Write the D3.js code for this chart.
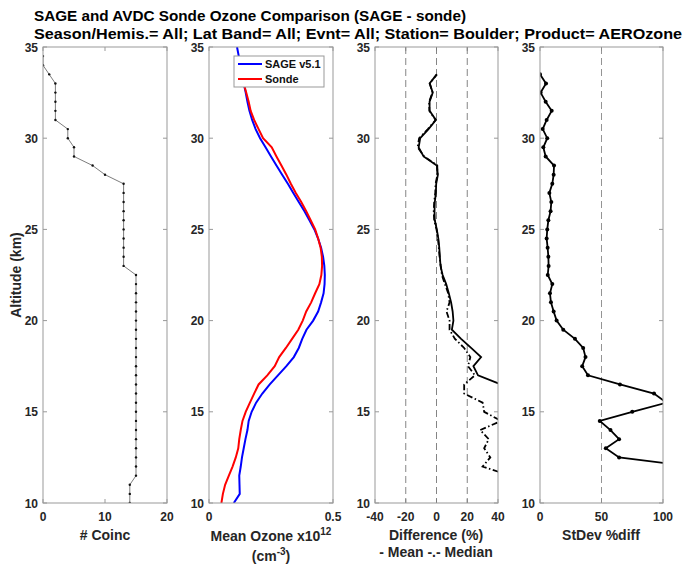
<!DOCTYPE html>
<html>
<head>
<meta charset="utf-8">
<script src="https://cdn.jsdelivr.net/npm/d3@7"></script>
<style>
  body { margin: 0; background: #fff; }
  svg { font-family: "Liberation Sans", Arial, Helvetica, sans-serif; }
</style>
</head>
<body>
<svg class="chart"></svg>
<script>
// Chart data
const coincAlt = [10, 10.5, 11, 11.5, 12, 12.5, 13, 13.5, 14, 14.5, 15, 15.5, 16, 16.5, 17, 17.5, 18, 18.5, 19, 19.5,
    20, 20.5, 21, 21.5, 22, 22.5, 23, 23.5, 24, 24.5, 25, 25.5, 26, 26.5, 27, 27.5, 28, 28.5, 29, 29.5,
    30, 30.5, 31, 31.5, 32, 32.5, 33, 33.5, 34, 34.5];
const coinc = [14, 14, 14, 15, 15, 15, 15, 15, 15, 15, 15, 15, 15, 15, 15, 15, 15, 15, 15, 15,
    15, 15, 15, 15, 15, 15, 13, 13, 13, 13, 13, 13, 13, 13, 13, 13, 10, 8, 5, 5,
    4, 4, 2, 2, 2, 2, 2, 1, 0, 0];

const ozoneAlt = [10, 10.5, 11, 11.5, 12, 12.5, 13, 13.5, 14, 14.5, 15, 15.5, 16, 16.5, 17, 17.5, 18, 18.5, 19, 19.5,
    20, 20.5, 21, 21.5, 22, 22.5, 23, 23.5, 24, 24.5, 25, 25.5, 26, 26.5, 27, 27.5, 28, 28.5, 29, 29.5,
    30, 30.5, 31, 31.5, 32, 32.5, 33, 33.5, 34, 34.5, 35];
const sageOzone = [0.100, 0.124, 0.123, 0.122, 0.128, 0.133, 0.140, 0.147, 0.155, 0.160, 0.172, 0.190, 0.215, 0.245, 0.278, 0.312, 0.342, 0.362, 0.376, 0.393,
    0.420, 0.440, 0.452, 0.462, 0.466, 0.467, 0.465, 0.460, 0.452, 0.440, 0.425, 0.405, 0.385, 0.362, 0.340, 0.318, 0.295, 0.272, 0.250, 0.228,
    0.206, 0.188, 0.174, 0.163, 0.155, 0.148, 0.140, 0.132, 0.126, 0.120, 0.113];
const sondeOzone = [0.050, 0.056, 0.065, 0.080, 0.095, 0.108, 0.118, 0.122, 0.128, 0.135, 0.148, 0.165, 0.182, 0.200, 0.235, 0.265, 0.283, 0.310, 0.335, 0.360,
    0.378, 0.392, 0.412, 0.428, 0.445, 0.453, 0.456, 0.455, 0.450, 0.440, 0.428, 0.410, 0.392, 0.372, 0.350, 0.330, 0.312, 0.292, 0.272, 0.253,
    0.218, 0.200, 0.182, 0.168, 0.160, 0.150, 0.140, 0.133, null, null, null];

const diffAlt = [11.5, 12, 12.5, 13, 13.5, 14, 14.5, 15, 15.5, 16, 16.5, 17, 17.5, 18, 18.5, 19, 19.5,
    20, 20.5, 21, 21.5, 22, 22.5, 23, 23.5, 24, 24.5, 25, 25.5, 26, 26.5, 27, 27.5, 28, 28.5, 29, 29.5,
    30, 30.5, 31, 31.5, 32, 32.5, 33, 33.5];
const diffMean = [null, null, null, null, null, null, null, null, null, null, 42, 27, 24, 29, 22.5, 16, 10,
    11, 10.5, 9.5, 8, 6.3, 4, 2.6, 2.2, 1.8, 1.2, 0.2, -1.1, -1.3, -1.1, -0.4, -0.2, 0.9, 0.2, -8.4, -11.6,
    -10.6, -5.2, -0.4, -4.5, -4.5, -2.4, -4.5, 0.2];
const diffMedian = [48, 30, 35, 31, 34, 28.4, 42, 31, 30, 18, 18, 25, 20.5, 22, 18, 12, 8.5,
    8.5, 6.5, 8.5, 7.6, 5.5, 3.5, 2.8, 2.0, 1.5, 1.0, 0, -1.5, -1.8, -1.5, -0.8, -0.6, 0.6, 0.5, -8.0, -12.3,
    -11.3, -5.6, -0.6, -4.6, -4.8, -2.6, -4.3, 0.2];

const stdAlt = [12, 12.5, 13, 13.5, 14, 14.5, 15, 15.5, 16, 16.5, 17, 17.5, 18, 18.5, 19, 19.5,
    20, 20.5, 21, 21.5, 22, 22.5, 23, 23.5, 24, 24.5, 25, 25.5, 26, 26.5, 27, 27.5, 28, 28.5, 29, 29.5,
    30, 30.5, 31, 31.5, 32, 32.5, 33, 33.5];
const stdDiff = [123, 64.3, 53.5, 64.3, 57.3, 48.6, 75, 103, 92.7, 65, 39, 34.3, 37, 35.1, 28.4, 18.9,
    13.5, 11.1, 8.9, 8.1, 10, 6.3, 7, 6.8, 6.2, 5.4, 5.9, 6.8, 8.6, 9.2, 7.6, 10, 11.1, 11.4, 4.6, 2.7,
    5.9, 2.2, 5.4, 9.5, 4.6, 0.5, 4.9, 0];

const altTicks = [10, 15, 20, 25, 30, 35];
const legendNames = ["SAGE v5.1", "Sonde"];
const legendColors = ["#0000ff", "#ff0000"];

// Size of the page
const width = 684;
const height = 567;
const plotTop = 47, plotBottom = 503;
const axisGray = "#999999";
const textColor = "#262626";

const svg = d3.select(".chart")
    .attr("width", width)
    .attr("height", height);

// Shared altitude scale
const y = d3.scaleLinear().domain([10, 35]).range([plotBottom, plotTop]);

// One panel: box, inward ticks on all sides, tick labels
function panel(id, x0, x1, domain, xTicks) {
    const x = d3.scaleLinear().domain(domain).range([x0, x1]);
    const g = svg.append("g");

    svg.append("clipPath").attr("id", id)
        .append("rect").attr("x", x0).attr("y", plotTop).attr("width", x1 - x0).attr("height", plotBottom - plotTop);

    // tick labels
    g.selectAll(".yl").data(altTicks).enter().append("text")
        .attr("x", x0 - 5).attr("y", d => y(d) + 4.5)
        .attr("text-anchor", "end")
        .attr("font-size", 12).attr("font-weight", "bold").attr("fill", textColor)
        .text(d => d);
    g.selectAll(".xl").data(xTicks).enter().append("text")
        .attr("x", d => x(d)).attr("y", plotBottom + 18)
        .attr("text-anchor", "middle")
        .attr("font-size", 12).attr("font-weight", "bold").attr("fill", textColor)
        .text(d => d);

    // inner ticks
    const tl = 4;
    altTicks.forEach(t => {
        g.append("line").attr("x1", x0).attr("x2", x0 + tl).attr("y1", y(t)).attr("y2", y(t)).attr("stroke", axisGray);
        g.append("line").attr("x1", x1).attr("x2", x1 - tl).attr("y1", y(t)).attr("y2", y(t)).attr("stroke", axisGray);
    });
    xTicks.forEach(t => {
        g.append("line").attr("x1", x(t)).attr("x2", x(t)).attr("y1", plotBottom).attr("y2", plotBottom - tl).attr("stroke", axisGray);
        g.append("line").attr("x1", x(t)).attr("x2", x(t)).attr("y1", plotTop).attr("y2", plotTop + tl).attr("stroke", axisGray);
    });

    const plot = svg.append("g").attr("clip-path", `url(#${id})`);

    // box drawn after, on top
    svg.append("rect")
        .attr("x", x0).attr("y", plotTop).attr("width", x1 - x0).attr("height", plotBottom - plotTop)
        .attr("fill", "none").attr("stroke", axisGray).attr("stroke-width", 1);

    return { x, plot };
}

function lineGen(x, xs, ys) {
    return d3.line()
        .defined(i => xs[i] !== null && xs[i] !== undefined)
        .x(i => x(xs[i]))
        .y(i => y(ys[i]))(d3.range(xs.length));
}

// Panel 1: number of coincidences
const p1 = panel("c1", 43, 167, [0, 20], [0, 10, 20]);
p1.plot.append("path")
    .attr("d", lineGen(p1.x, coinc, coincAlt))
    .attr("fill", "none").attr("stroke", "#444").attr("stroke-width", 0.7);
p1.plot.selectAll(".dot").data(coinc).enter().append("circle")
    .attr("cx", d => p1.x(d)).attr("cy", (d, i) => y(coincAlt[i]))
    .attr("r", 1.2).attr("fill", "#111");

// Panel 2: mean ozone
const p2 = panel("c2", 209, 333, [0, 0.5], [0, 0.5]);
p2.plot.append("path")
    .attr("d", lineGen(p2.x, sageOzone, ozoneAlt))
    .attr("fill", "none").attr("stroke", legendColors[0]).attr("stroke-width", 2);
p2.plot.append("path")
    .attr("d", lineGen(p2.x, sondeOzone, ozoneAlt))
    .attr("fill", "none").attr("stroke", legendColors[1]).attr("stroke-width", 2);

// legend
const lg = svg.append("g");
lg.append("rect").attr("x", 234).attr("y", 56).attr("width", 90).attr("height", 31)
    .attr("fill", "#fff").attr("stroke", axisGray);
legendNames.forEach((n, i) => {
    const ly = 64 + i * 15;
    lg.append("line").attr("x1", 238).attr("x2", 262).attr("y1", ly).attr("y2", ly)
        .attr("stroke", legendColors[i]).attr("stroke-width", 2);
    lg.append("text").attr("x", 265).attr("y", ly + 4)
        .attr("font-size", 11).attr("font-weight", "bold").attr("fill", "#111").text(n);
});

// Panel 3: difference
const p3 = panel("c3", 375, 498, [-40, 40], [-40, -20, 0, 20, 40]);
[-20, 0, 20].forEach(v => {
    p3.plot.append("line")
        .attr("x1", p3.x(v)).attr("x2", p3.x(v)).attr("y1", plotTop).attr("y2", plotBottom)
        .attr("stroke", "#777").attr("stroke-width", 0.9).attr("stroke-dasharray", "7,4");
});
p3.plot.append("path")
    .attr("d", lineGen(p3.x, diffMedian, diffAlt))
    .attr("fill", "none").attr("stroke", "#000").attr("stroke-width", 1.8)
    .attr("stroke-dasharray", "6,2.5,1.5,2.5");
p3.plot.append("path")
    .attr("d", lineGen(p3.x, diffMean, diffAlt))
    .attr("fill", "none").attr("stroke", "#000").attr("stroke-width", 1.8);

// Panel 4: standard deviation of differences
const p4 = panel("c4", 540, 663, [0, 100], [0, 50, 100]);
p4.plot.append("line")
    .attr("x1", p4.x(50)).attr("x2", p4.x(50)).attr("y1", plotTop).attr("y2", plotBottom)
    .attr("stroke", "#888").attr("stroke-width", 0.9).attr("stroke-dasharray", "7,4");
p4.plot.append("path")
    .attr("d", lineGen(p4.x, stdDiff, stdAlt))
    .attr("fill", "none").attr("stroke", "#000").attr("stroke-width", 1.8);
p4.plot.selectAll(".dot").data(stdDiff).enter().append("circle")
    .attr("cx", d => p4.x(d)).attr("cy", (d, i) => y(stdAlt[i]))
    .attr("r", 2).attr("fill", "#000");

// Axis labels
const lab = svg.append("g").attr("font-weight", "bold").attr("fill", textColor).attr("text-anchor", "middle");
lab.append("text").attr("transform", "translate(21,275) rotate(-90)").attr("font-size", 14).text("Altitude (km)");
lab.append("text").attr("x", 105).attr("y", 540).attr("font-size", 14).text("# Coinc");
const oz = lab.append("text").attr("x", 271).attr("y", 541).attr("font-size", 14);
oz.append("tspan").text("Mean Ozone x10");
oz.append("tspan").attr("dy", -6).attr("font-size", 10).text("12");
const cm = lab.append("text").attr("x", 271).attr("y", 561).attr("font-size", 14);
cm.append("tspan").text("(cm");
cm.append("tspan").attr("dy", -6).attr("font-size", 10).text("-3");
cm.append("tspan").attr("dy", 6).text(")");
lab.append("text").attr("x", 436).attr("y", 540).attr("font-size", 14).text("Difference (%)");
lab.append("text").attr("x", 436).attr("y", 557).attr("font-size", 14).text("- Mean -.- Median");
lab.append("text").attr("x", 601).attr("y", 540).attr("font-size", 14).text("StDev %diff");

// Title
const ti = svg.append("g").attr("font-weight", "bold").attr("fill", "#000");
ti.append("text").attr("x", 34).attr("y", 21).attr("font-size", 15)
    .attr("textLength", 432).attr("lengthAdjust", "spacingAndGlyphs")
    .text("SAGE and AVDC Sonde Ozone Comparison (SAGE - sonde)");
ti.append("text").attr("x", 34).attr("y", 38.5).attr("font-size", 15)
    .attr("textLength", 648).attr("lengthAdjust", "spacingAndGlyphs")
    .text("Season/Hemis.= All; Lat Band= All; Evnt= All; Station= Boulder; Product= AEROzone");
</script>
</body>
</html>
